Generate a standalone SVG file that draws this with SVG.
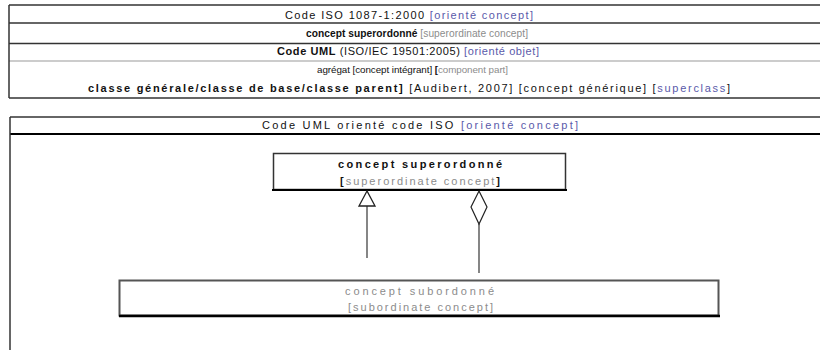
<svg xmlns="http://www.w3.org/2000/svg" width="820" height="350" viewBox="0 0 820 350">
<style>
text{font-family:"Liberation Sans",Arial,sans-serif;font-size:11px;fill:#111}
.b{font-weight:bold}
.blue{fill:#5a5aaa}
.gray{fill:#8c8c8c}
.k{fill:#111}
.line{stroke:#333;stroke-width:1.5;fill:none}
.thin{stroke:#999;stroke-width:1;fill:none}
.box{fill:#fff;stroke:#333;stroke-width:1.5}
.conn{stroke:#444;stroke-width:1.3;fill:none}
</style>
<rect width="820" height="350" fill="#fff"/>
<g id="table-top">
<line class="line" x1="9" y1="5" x2="820" y2="5"/>
<line class="line" x1="9" y1="23" x2="820" y2="23"/>
<line class="line" x1="9" y1="43.5" x2="820" y2="43.5"/>
<line class="thin" x1="9" y1="61" x2="820" y2="61"/>
<line class="line" x1="9" y1="98" x2="820" y2="98"/>
<line class="line" x1="9" y1="5" x2="9" y2="98"/>
<text x="285" y="19" textLength="248" lengthAdjust="spacing">Code ISO 1087-1:2000 <tspan class="blue">[orienté concept]</tspan></text>
<text x="306" y="37" style="font-size:10.2px" textLength="222" lengthAdjust="spacing"><tspan class="b">concept superordonné</tspan> <tspan class="gray">[superordinate concept]</tspan></text>
<text x="277" y="55" textLength="262" lengthAdjust="spacing"><tspan class="b">Code UML</tspan> (ISO/IEC 19501:2005) <tspan class="blue">[orienté objet]</tspan></text>
<text x="317" y="73" style="font-size:9.8px" textLength="191" lengthAdjust="spacing">agrégat [concept intégrant] <tspan class="b">[</tspan><tspan class="gray">component part]</tspan></text>
<text x="88" y="92" textLength="642" lengthAdjust="spacing"><tspan class="b">classe générale/classe de base/classe parent]</tspan> [Audibert, 2007] [concept générique]  [<tspan class="blue">superclass</tspan>]</text>
</g>
<g id="table-uml">
<line class="line" x1="10" y1="117" x2="820" y2="117"/>
<line stroke="#000" stroke-width="2" x1="10" y1="134" x2="820" y2="134"/>
<line class="line" x1="10" y1="117" x2="10" y2="350"/>
<text x="262" y="129" textLength="316" lengthAdjust="spacing">Code UML orienté code ISO <tspan class="blue">[orienté concept]</tspan></text>
</g>
<g id="node-superordonne">
<rect class="box" x="273.5" y="153.5" width="292" height="36"/>
<line stroke="#000" stroke-width="2" x1="272" y1="190" x2="567" y2="190"/>
<text class="b" x="338" y="168" textLength="164" lengthAdjust="spacing">concept superordonné</text>
<text class="gray" x="340" y="185" textLength="160" lengthAdjust="spacing"><tspan class="k b">[</tspan>superordinate concept<tspan class="k b">]</tspan></text>
</g>
<g id="node-subordonne">
<rect x="119.5" y="280.5" width="599" height="35" fill="#fff" stroke="#555" stroke-width="2"/>
<line stroke="#000" stroke-width="2.5" x1="119" y1="316" x2="720" y2="316"/>
<text class="gray" x="345" y="295" textLength="149" lengthAdjust="spacing">concept subordonné</text>
<text class="gray" x="348" y="311" textLength="145" lengthAdjust="spacing">[subordinate concept]</text>
</g>
<g id="connectors">
<line class="conn" x1="367" y1="206" x2="367" y2="258"/>
<polygon points="367,191 359,206 375,206" fill="#fff" stroke="#222" stroke-width="1.3"/>
<line class="conn" x1="479" y1="224" x2="479" y2="273"/>
<polygon points="479,191 487,207 479,224 471,207" fill="#fff" stroke="#222" stroke-width="1.2"/>
</g>
</svg>
